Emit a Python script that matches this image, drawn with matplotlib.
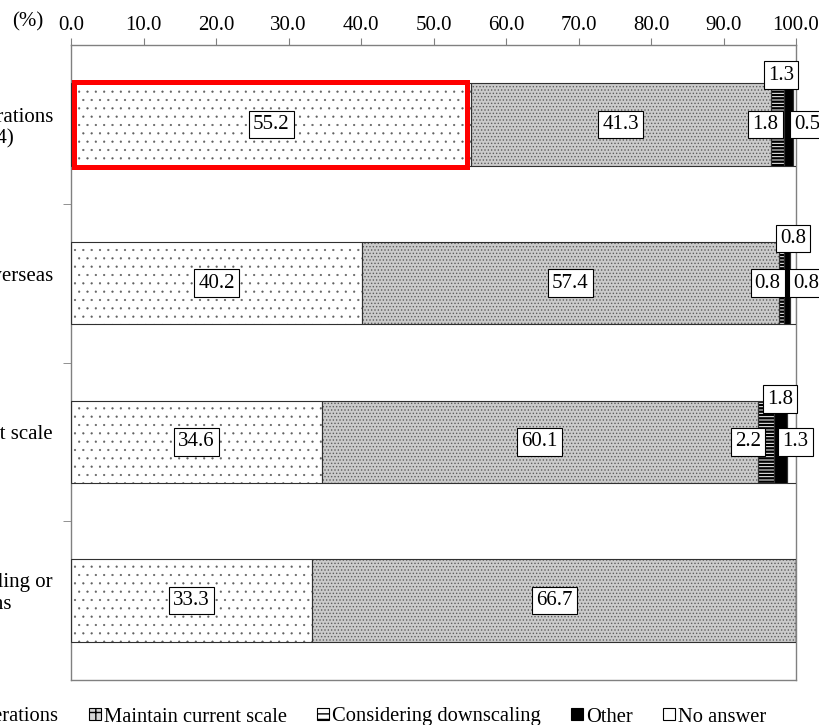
import matplotlib
matplotlib.use('Agg')
import matplotlib.pyplot as plt
import numpy as np
from matplotlib.patches import Patch, Rectangle

# ---------------------------------------------------------------------------
# Data (percent of respondents)
# ---------------------------------------------------------------------------
categories = ['Expand operations\n(n = 224)',
              'Relocate or expand overseas\n(n=122)',
              'Maintain current scale\n(n=45)',
              'Considering downscaling or\nclosing operations\n(n=3)']
series = ['Expand operations', 'Maintain current scale',
          'Considering downscaling', 'Other', 'No answer']
expand = [55.2, 40.2, 34.6, 33.3]
maintain = [41.3, 57.4, 60.1, 66.7]
downscale = [1.8, 0.8, 2.2, 0.0]
other = [1.3, 0.8, 1.8, 0.0]
no_answer = [0.5, 0.8, 1.3, 0.0]
values = [expand, maintain, downscale, other, no_answer]

# look of each series: face, hatch, hatch colour, hatch linewidth
styles = [
    dict(fc='white', hatch='..', hc='#606060', hlw=0.35),
    dict(fc='#cbcbcb', hatch='.....', hc='#5e5e5e', hlw=0.6),
    dict(fc='white', hatch='-----', hc='black', hlw=1.7),
    dict(fc='black', hatch=None, hc='black', hlw=1.0),
    dict(fc='white', hatch=None, hc='white', hlw=1.0),
]

# offsets of the small-segment labels (data units, from segment centre)
down_dx = [-1.6, -1.9, -2.4]
other_dx = [-1.0, 0.8, 0.0]
other_dy = [-0.31, -0.28, -0.27]
na_dx = [1.65, 1.8, 0.55]

plt.rcParams['font.family'] = ['Liberation Serif', 'DejaVu Serif']
plt.rcParams['font.size'] = 15

fig = plt.figure(figsize=(8.19, 7.25), dpi=100)
ax = fig.add_axes([71 / 819, 45 / 725, 725 / 819, 635 / 725])

y = np.arange(len(categories))
bar_h = 0.52
left = np.zeros(len(categories))
for vals, st in zip(values, styles):
    vals = np.asarray(vals)
    with plt.rc_context({'hatch.linewidth': st['hlw']}):
        bars = ax.barh(y, vals, left=left, height=bar_h, color=st['fc'],
                       edgecolor=st['hc'], hatch=st['hatch'], lw=0, zorder=2)
    for p in bars:
        if hasattr(p, 'set_hatch_linewidth'):
            p.set_hatch_linewidth(st['hlw'])
    ax.barh(y, vals, left=left, height=bar_h, fill=False,
            edgecolor='#303030', lw=0.8, zorder=3)
    left = left + vals

box = dict(boxstyle='square,pad=0.2', fc='white', ec='black', lw=0.8)
lbl_kw = dict(ha='center', va='center', bbox=box, zorder=6, clip_on=False)

# large segments: label in the middle
starts = np.zeros(len(categories))
for vals in values[:2]:
    for i, v in enumerate(vals):
        ax.text(starts[i] + v / 2, y[i], f'{v:.1f}', **lbl_kw)
    starts = starts + np.asarray(vals)

# small segments: down-scaling left, other above, no answer right
for i in range(3):
    s_down = expand[i] + maintain[i]
    s_other = s_down + downscale[i]
    s_na = s_other + other[i]
    ax.text(s_down + downscale[i] / 2 + down_dx[i], y[i],
            f'{downscale[i]:.1f}', **lbl_kw)
    ax.text(s_other + other[i] / 2 + other_dx[i], y[i] + other_dy[i],
            f'{other[i]:.1f}', **lbl_kw)
    ax.text(s_na + no_answer[i] / 2 + na_dx[i], y[i],
            f'{no_answer[i]:.1f}', **lbl_kw)

# red highlight round the first segment
ax.add_patch(Rectangle((0.4, y[0] - 0.27), expand[0] - 1.0, 0.54,
                       fill=False, ec='red', lw=3.6, zorder=5, clip_on=False))

# axes
ax.set_xlim(0, 100)
ax.set_ylim(len(categories) - 0.5, -0.5)
ax.xaxis.tick_top()
ax.set_xticks(np.arange(0, 101, 10))
ax.set_xticklabels([f'{v:.1f}' for v in np.arange(0, 101, 10)])
ax.tick_params(axis='x', direction='out', length=5, color='#808080', pad=2)
ax.set_yticks(y)
ax.set_yticklabels(categories)
ax.set_yticks(np.arange(0.5, len(categories) - 1, 1), minor=True)
ax.tick_params(axis='y', which='major', length=0, pad=13)
ax.tick_params(axis='y', which='minor', length=6, color='#808080')
for lbl in ax.get_yticklabels():
    lbl.set_multialignment('center')
for sp in ax.spines.values():
    sp.set_color('#808080')
    sp.set_linewidth(1.0)

fig.text(28 / 819, 1 - 22 / 725, '(%)', ha='center', va='center')

handles = [
    Patch(facecolor='white', edgecolor='black', hatch='..', lw=0.8),
    Patch(facecolor='#d6d6d6', edgecolor='black', hatch='++', lw=0.8),
    Patch(facecolor='white', edgecolor='black', hatch='---', lw=0.8),
    Patch(facecolor='black', edgecolor='black', lw=0.8),
    Patch(facecolor='white', edgecolor='black', lw=0.8),
]
fig.legend(handles, series, ncol=5, loc='center right',
           bbox_to_anchor=(766 / 819, 8 / 725), frameon=False,
           fontsize=14.8, handlelength=0.55, handleheight=0.55,
           handletextpad=0.15, columnspacing=1.5, borderpad=0,
           borderaxespad=0)

fig.savefig('out.png', dpi=100)
